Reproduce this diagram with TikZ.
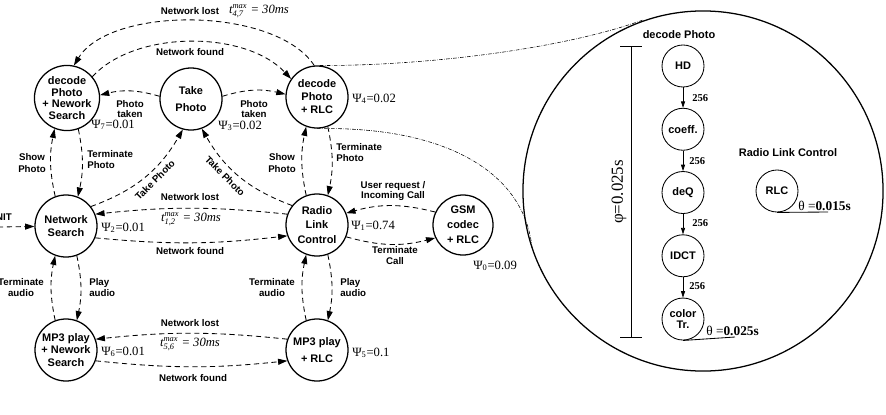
\documentclass[tikz,border=0pt]{standalone}
\usepackage{amsmath}
\usepackage{fontspec}
\setmainfont{Liberation Sans}
\newfontfamily\tms{Liberation Serif}
\usetikzlibrary{arrows.meta, positioning}

\begin{document}
\begin{tikzpicture}[x=0.025cm, y=-0.025cm,
  state/.style={circle, draw, line width=0.9pt, minimum size=1.55cm, inner sep=0pt,
    align=center, font=\fontsize{7.8}{9.8}\selectfont\bfseries},
  task/.style={circle, draw, line width=0.6pt, minimum size=1.05cm, inner sep=0pt,
    align=center, font=\fontsize{7.8}{7.6}\selectfont\bfseries},
  trans/.style={dash pattern=on 1.3mm off 0.9mm, line width=0.6pt,
    -{Triangle[length=2.3mm, width=1.5mm]}},
  flow/.style={line width=0.5pt, -{Triangle[length=1.6mm, width=1mm]}},
  zoomline/.style={line width=0.4pt, dash pattern=on 2.6pt off 1pt on 0.4pt off 1pt},
  lbl/.style={font=\fontsize{6.9}{7.8}\selectfont\bfseries, align=center, inner sep=0pt},
  hdr/.style={font=\fontsize{7.8}{9}\selectfont\bfseries, inner sep=0pt},
  prob/.style={font=\tms\fontsize{9}{10}\selectfont, inner sep=0pt, anchor=west},
  deadline/.style={font=\tms\itshape\fontsize{9}{10}\selectfont, inner sep=0pt},
  budget/.style={font=\tms\fontsize{9.5}{10}\selectfont, inner sep=0pt, anchor=base west},
  tok/.style={font=\tms\bfseries\fontsize{7.5}{8}\selectfont, inner sep=0pt, anchor=west},
]
\useasboundingbox (0,0) rectangle (886,414);

% States
\node[state, font=\fontsize{7.8}{8.2}\selectfont\bfseries] (dpn) at (67,98) {decode\\Photo\\+ Nework\\Search};
\node[state, font=\fontsize{7.8}{11.8}\selectfont\bfseries] (tp) at (191,99) {Take\\Photo};
\node[state, font=\fontsize{7.8}{9.2}\selectfont\bfseries] (dpr) at (317,97) {decode\\Photo\\+ RLC};
\node[state] (ns) at (66,226) {Network\\Search};
\node[state, font=\fontsize{7.8}{10.3}\selectfont\bfseries] (rlc) at (317,225) {Radio\\Link\\Control};
\node[state, minimum size=1.5cm, font=\fontsize{7.8}{10.6}\selectfont\bfseries] (gsm) at (463,225) {GSM\\codec\\+ RLC};
\node[state, font=\fontsize{7.8}{8.7}\selectfont\bfseries] (mpn) at (66,350) {MP3 play\\+ Nework\\Search};
\node[state, font=\fontsize{7.8}{11.8}\selectfont\bfseries] (mpr) at (317,350) {MP3 play\\+ RLC};

% Probabilities
\node[prob] (psi7) at (91,125) {Ψ\textsubscript{7}=0.01};
\node[prob] (psi3) at (218,126) {Ψ\textsubscript{3}=0.02};
\node[prob] (psi4) at (352,99) {Ψ\textsubscript{4}=0.02};
\node[prob] (psi2) at (101,228) {Ψ\textsubscript{2}=0.01};
\node[prob] (psi1) at (351,226) {Ψ\textsubscript{1}=0.74};
\node[prob] (psi0) at (473,266) {Ψ\textsubscript{0}=0.09};
\node[prob] (psi6) at (101,352) {Ψ\textsubscript{6}=0.01};
\node[prob] (psi5) at (352,353) {Ψ\textsubscript{5}=0.1};

% Transitions
\coordinate (init) at (-2,227);
\draw[trans] (init) -- (ns);
\node[lbl, anchor=east] (l-init) at (12,217) {INIT};

\draw[trans] (dpr.95) .. controls (275,6) and (110,6) .. (dpn.78);
\draw[trans] (dpn.40) .. controls (135,30) and (245,30) .. (dpr.145);
\node[lbl] (l-lost47) at (190,11) {Network lost};
\node[deadline] (t47) at (259,11) {t$^{\text{max}}_{\text{4,7}}$ = 30ms};
\node[lbl] (l-found47) at (190,52) {Network found};

\draw[trans] (tp.175) to[bend right=15] (dpn.5);
\draw[trans] (tp.5) to[bend left=15] (dpr.175);
\node[lbl, font=\fontsize{6.9}{6.6}\selectfont\bfseries] (l-taken1) at (130,109) {Photo\\taken};
\node[lbl, font=\fontsize{6.9}{6.6}\selectfont\bfseries] (l-taken2) at (254,109) {Photo\\taken};

\draw[trans] (ns.110) to[bend left=12] (dpn.248);
\draw[trans] (dpn.290) to[bend left=12] (ns.68);
\node[lbl, font=\fontsize{6.9}{8.5}\selectfont\bfseries] (l-show1) at (32,163) {Show\\Photo};
\node[lbl, align=left, anchor=west] (l-term1) at (87,160) {Terminate\\Photo};

\draw[trans] (ns.38) to[bend right=20] (tp.255);
\draw[trans] (rlc.142) to[bend left=20] (tp.290);
\node[lbl, rotate=45] (l-take1) at (155,180) {Take Photo};
\node[lbl, rotate=-45] (l-take2) at (225,176) {Take Photo};

\draw[trans] (rlc.110) to[bend left=12] (dpr.250);
\draw[trans] (dpr.290) to[bend left=12] (rlc.70);
\node[lbl, font=\fontsize{6.9}{8.5}\selectfont\bfseries] (l-show2) at (282,163) {Show\\Photo};
\node[lbl, align=left, anchor=west] (l-term2) at (336,153) {Terminate\\Photo};

\draw[trans] (rlc.160) to[bend right=6] (ns.22);
\draw[trans] (ns.-22) to[bend right=6] (rlc.200);
\node[lbl] (l-lost12) at (190,197) {Network lost};
\node[deadline] (t12) at (191,219) {t$^{\text{max}}_{\text{1,2}}$ = 30ms};
\node[lbl] (l-found12) at (190,251) {Network found};

\draw[trans] (gsm.155) to[bend right=15] (rlc.22);
\draw[trans] (rlc.-22) to[bend right=15] (gsm.205);
\node[lbl, font=\fontsize{6.9}{7}\selectfont\bfseries] (l-user) at (393,191) {User request /\\Incoming Call};
\node[lbl] (l-tcall) at (395,256) {Terminate\\Call};

\draw[trans] (mpn.110) to[bend left=12] (ns.250);
\draw[trans] (ns.290) to[bend left=12] (mpn.70);
\node[lbl] (l-taud1) at (21,288) {Terminate\\audio};
\node[lbl, align=left, anchor=west] (l-play1) at (89,288) {Play\\audio};

\draw[trans] (mpr.110) to[bend left=12] (rlc.250);
\draw[trans] (rlc.290) to[bend left=12] (mpr.70);
\node[lbl] (l-taud2) at (272,288) {Terminate\\audio};
\node[lbl, align=left, anchor=west] (l-play2) at (340,288) {Play\\audio};

\draw[trans] (mpr.160) to[bend right=6] (mpn.20);
\draw[trans] (mpn.-20) to[bend right=6] (mpr.200);
\node[lbl] (l-lost56) at (190,323) {Network lost};
\node[deadline] (t56) at (190,344) {t$^{\text{max}}_{\text{5,6}}$ = 30ms};
\node[lbl] (l-found56) at (193,378) {Network found};

% Zoomed view
\node[circle, draw, line width=0.9pt, minimum size=9cm] (lens) at (703,191) {};
\coordinate (lens-top) at (643,20);
\coordinate (lens-left) at (532,248);
\draw[zoomline] (dpr.85) .. controls (420,66) and (560,50) .. (lens-top);
\draw[zoomline] (dpr.-90) .. controls (450,126) and (525,175) .. (lens-left);

% decode Photo tasks
\node[hdr] (h-dec) at (679,35) {decode Photo};
\node[task] (hd) at (683,66) {HD};
\node[task, below=0.51cm of hd] (coef) {coeff.};
\node[task, below=0.51cm of coef] (deq) {deQ};
\node[task, below=0.51cm of deq] (idct) {IDCT};
\node[task, below=0.51cm of idct] (ctr) {color\\Tr.};
\draw[flow] (hd) -- (coef);
\draw[flow] (coef) -- (deq);
\draw[flow] (deq) -- (idct);
\draw[flow] (idct) -- (ctr);
\node[tok] (tok1) at (692,98) {256};
\node[tok] (tok2) at (689,161) {256};
\node[tok] (tok3) at (692,223) {256};
\node[tok] (tok4) at (689,286) {256};

% period bar
\coordinate (bar-top) at (631,46);
\coordinate (bar-bot) at (631,337);
\draw[line width=0.6pt] (bar-top) -- (bar-bot);
\draw[line width=0.6pt] (bar-top) ++(-11,0) -- ++(22,0);
\draw[line width=0.6pt] (bar-bot) ++(-11,0) -- ++(22,0);
\node[rotate=90, inner sep=0pt, font=\tms\fontsize{12}{12}\selectfont] (phi) at (619,192) {φ=0.025s};

\coordinate (ctr-end) at (735,337);
\draw[line width=0.6pt] (ctr.south) -- (ctr-end);
\node[budget] (th1) at (706,335) {θ =\textbf{0.025s}};

% RLC task
\node[hdr] (h-rlc) at (788,153) {Radio Link Control};
\node[task] (rlct) at (777,191) {RLC};
\coordinate (rlct-end) at (828,212);
\draw[line width=0.6pt] (rlct.south) -- (rlct-end);
\node[budget] (th2) at (798,210) {θ =\textbf{0.015s}};

\end{tikzpicture}
\end{document}
